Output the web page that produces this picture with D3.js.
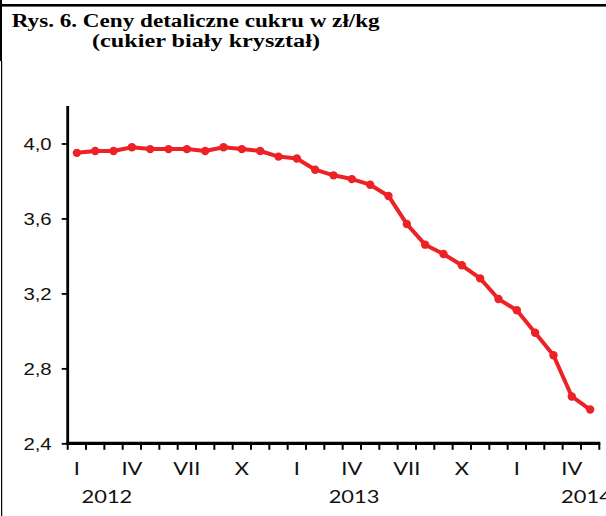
<!DOCTYPE html>
<html>
<head>
<meta charset="utf-8">
<script src="https://cdn.jsdelivr.net/npm/d3@7"></script>
<style>
  html, body { margin: 0; padding: 0; background: #fff; }
  svg { display: block; }
</style>
</head>
<body>
<svg id="chart" width="606" height="516"></svg>
<script>
// Monthly retail sugar prices, Jan 2012 – May 2014 (zł/kg)
const months = ["I","II","III","IV","V","VI","VII","VIII","IX","X","XI","XII",
                "I","II","III","IV","V","VI","VII","VIII","IX","X","XI","XII",
                "I","II","III","IV","V"];
const prices = [3.95, 3.96, 3.96, 3.98, 3.97, 3.97, 3.97, 3.96, 3.98, 3.97, 3.96, 3.93,
                3.92, 3.86, 3.83, 3.81, 3.78, 3.72, 3.57, 3.46, 3.41, 3.35, 3.28, 3.17,
                3.11, 2.99, 2.87, 2.65, 2.58];
const years = ["2012", "2013", "2014"];
const yTicks = [2.4, 2.8, 3.2, 3.6, 4.0];
const titleLines = ["Rys. 6. Ceny detaliczne cukru w zł/kg", "(cukier biały kryształ)"];

// layout
const X0 = 67.7, X1 = 599.3, Y0 = 443.3, Y1 = 106;
const STRETCH = 1.25;          // horizontal stretch of the axis lettering
const yearAt = [1.64, 15.12, 27.8];   // category positions of the year captions
const red = "#ec2227";

const svg = d3.select("#chart");
const idx = d3.range(months.length);

const x = d3.scaleBand().domain(idx).range([X0, X1]).padding(0);
// centre of a (possibly fractional) category position
const cx = i => X0 + (i + 0.5) * x.bandwidth();
const y = d3.scaleLinear().domain([2.4, 4.2]).range([Y0, Y1]);

// frame
svg.append("rect").attr("x", 0).attr("y", 4).attr("width", 606).attr("height", 2.6).attr("fill", "#000");
svg.append("rect").attr("x", 0).attr("y", 0).attr("width", 2).attr("height", 61).attr("fill", "#000");
svg.append("rect").attr("x", 1).attr("y", 61).attr("width", 1.2).attr("height", 455).attr("fill", "#000");

// title
svg.append("text").attr("x", 11.7).attr("y", 27.3)
  .attr("font-family", "'Liberation Serif', 'Times New Roman', serif")
  .attr("font-weight", "bold").attr("font-size", 18.6)
  .attr("textLength", 368).attr("lengthAdjust", "spacingAndGlyphs")
  .text(titleLines[0]);
svg.append("text").attr("x", 92).attr("y", 46.7)
  .attr("font-family", "'Liberation Serif', 'Times New Roman', serif")
  .attr("font-weight", "bold").attr("font-size", 18.6)
  .attr("textLength", 228).attr("lengthAdjust", "spacingAndGlyphs")
  .text(titleLines[1]);

// y axis
const yAxis = svg.append("g").attr("transform", `translate(${X0},0)`)
  .call(d3.axisLeft(y).tickValues(yTicks).tickSize(6).tickPadding(0)
        .tickFormat(d => d3.format(".1f")(d).replace(".", ",")));
yAxis.select(".domain").remove();
yAxis.selectAll(".tick line").attr("stroke", "#000").attr("stroke-width", 1.8);
yAxis.selectAll(".tick text")
  .attr("x", null).attr("dy", null)
  .attr("transform", `translate(-16,6) scale(${STRETCH},1)`)
  .attr("font-family", "'Liberation Sans', Arial, sans-serif")
  .attr("font-size", 16.3).attr("fill", "#111");
svg.append("line").attr("x1", X0).attr("x2", X0).attr("y1", Y1).attr("y2", Y0 + 1.5)
  .attr("stroke", "#000").attr("stroke-width", 2.8);

// x axis: ticks on category boundaries
const bounds = d3.range(months.length + 1).map(i => X0 + i * x.bandwidth());
svg.append("g").selectAll("line").data(bounds).join("line")
  .attr("x1", d => d).attr("x2", d => d).attr("y1", Y0).attr("y2", Y0 + 6.5)
  .attr("stroke", "#000").attr("stroke-width", 2);
svg.append("line").attr("x1", X0 - 1.4).attr("x2", X1 + 1).attr("y1", Y0).attr("y2", Y0)
  .attr("stroke", "#000").attr("stroke-width", 3.2);

// month labels (every quarter)
svg.append("g").selectAll("text").data(idx.filter(i => i % 3 === 0)).join("text")
  .attr("transform", i => `translate(${cx(i)},475) scale(${STRETCH},1)`)
  .attr("text-anchor", "middle")
  .attr("font-family", "Lato, 'Open Sans', sans-serif")
  .attr("font-size", 17.5).attr("fill", "#111")
  .text(i => months[i]);

// year labels
svg.append("g").selectAll("text").data(years).join("text")
  .attr("transform", (d, k) => `translate(${cx(yearAt[k])},503.3) scale(${STRETCH},1)`)
  .attr("text-anchor", "middle")
  .attr("font-family", "Lato, 'Open Sans', sans-serif")
  .attr("font-size", 17.5).attr("fill", "#111")
  .text(d => d);

// price line with markers
svg.append("path").datum(prices)
  .attr("fill", "none").attr("stroke", red).attr("stroke-width", 4)
  .attr("stroke-linejoin", "round")
  .attr("d", d3.line().x((d, i) => cx(i)).y(d => y(d)));
svg.append("g").selectAll("circle").data(prices).join("circle")
  .attr("cx", (d, i) => cx(i)).attr("cy", d => y(d)).attr("r", 4.2)
  .attr("fill", red);
</script>
</body>
</html>
